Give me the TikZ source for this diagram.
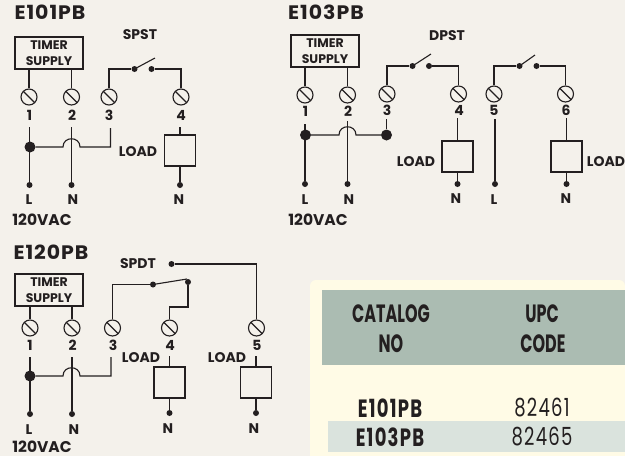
\documentclass[tikz,border=0pt]{standalone}
\usepackage{fontspec}
\setmainfont{Poppins}
\newfontfamily\titlefont[FakeStretch=1.05,LetterSpace=5]{Poppins}
\newfontfamily\condfont[FakeStretch=0.64]{Poppins}
\newfontfamily\itemfont[FakeStretch=0.72,LetterSpace=5]{Poppins}
\usepackage{xcolor}
\usetikzlibrary{positioning}
\definecolor{paperbg}{HTML}{F4F1EB}
\definecolor{inkblack}{HTML}{231F20}
\definecolor{panelcream}{HTML}{FFFBE6}
\definecolor{headgreen}{HTML}{ABBCB2}
\definecolor{rowgreen}{HTML}{DAE3DD}

\begin{document}
\begin{tikzpicture}[
    x=1pt, y=-1pt,
    wire/.style={draw=inkblack, line width=1.1pt},
    title/.style={font=\titlefont\fontsize{19.5}{19.5}\bfseries, text=inkblack, inner sep=0pt},
    lab/.style={font=\fontsize{14}{14}\bfseries, text=inkblack, inner sep=0pt},
    volt/.style={font=\fontsize{15.5}{15.5}\bfseries, text=inkblack, inner sep=0pt},
    supply/.style={rectangle, draw=inkblack, line width=1.1pt, minimum width=68pt, minimum height=32pt, inner sep=0pt, align=center, font=\fontsize{12.5}{16}\bfseries, text=inkblack},
    loadbox/.style={rectangle, draw=inkblack, line width=1.1pt, minimum width=31pt, minimum height=31pt, inner sep=0pt},
    terminal/.style={circle, draw=inkblack, line width=1.1pt, minimum size=16pt, inner sep=0pt, path picture={\draw[inkblack, line width=1.1pt] (path picture bounding box.north west) -- (path picture bounding box.south east);}},
    dot/.style={circle, fill=inkblack, minimum size=6pt, inner sep=0pt},
    bigdot/.style={circle, fill=inkblack, minimum size=11pt, inner sep=0pt},
    tablehead/.style={font=\condfont\fontsize{25}{25}\bfseries, text=inkblack, inner sep=0pt},
    tableitem/.style={font=\itemfont\fontsize{25}{25}\bfseries, text=inkblack, inner sep=0pt},
    tablecell/.style={font=\itemfont\fontsize{25}{25}\selectfont, text=inkblack, inner sep=0pt}
]
\useasboundingbox (0,0) rectangle (625,456);
\fill[paperbg] (0,0) rectangle (625,456);

% E101PB
\node[title] (atitle) at (50,12) {E101PB};
\node[supply] (asupply) at (49,53) {TIMER\\SUPPLY};
\node[lab] (aspst) at (140,35) {SPST};
\node[terminal] (a1) at (29,97) {};
\node[terminal] (a2) at (71.5,97) {};
\node[terminal] (a3) at (109,97) {};
\node[terminal] (a4) at (181,97) {};
\node[lab] at (29.5,115) {1};
\node[lab] at (72,115) {2};
\node[lab] at (109,115) {3};
\node[lab] at (181,115) {4};
\node[dot] (aon) at (134.5,69) {};
\node[dot] (aoff) at (151.5,69) {};
\coordinate (atip) at (155,58);
\draw[wire] (asupply.south -| a1) -- (a1);
\draw[wire] (asupply.south -| a2) -- (a2);
\draw[wire] (a3) |- (aon);
\draw[wire] (a4) |- (aoff);
\draw[wire] (aon.center) -- (atip);
\node[bigdot] (ajoin) at (30,147) {};
\node[dot] (aL) at (29.5,185) {};
\node[dot] (aN) at (71.5,185) {};
\node[dot] (aN2) at (180,185) {};
\coordinate (aLtop) at (29.5,127);
\coordinate (aNtop) at (71.5,127);
\coordinate (a3stub) at (110.5,128);
\coordinate (a4stub) at (180,127);
\coordinate (ajl) at (63,147);
\coordinate (ajr) at (80,147);
\node[loadbox] (aload) at (180,150.5) {};
\node[lab] at (138,152) {LOAD};
\draw[wire] (aLtop) -- (aL);
\draw[wire] (aNtop) -- (aN);
\draw[wire] (ajoin) -- (ajl) .. controls +(0,-11) and +(0,-11) .. (ajr) -| (a3stub);
\draw[wire] (a4stub) -- (aload);
\draw[wire] (aload) -- (aN2);
\node[lab] at (29,200) {L};
\node[lab] at (73,200) {N};
\node[lab] at (179,200) {N};
\node[volt] at (42,220) {120VAC};

% E103PB
\node[title] (btitle) at (326,12) {E103PB};
\node[supply] (bsupply) at (325,51) {TIMER\\SUPPLY};
\node[lab] (bdpst) at (447,36) {DPST};
\node[terminal] (b1) at (305,95) {};
\node[terminal] (b2) at (347.5,95) {};
\node[terminal] (b3) at (387,94) {};
\node[terminal] (b4) at (458.5,94) {};
\node[terminal] (b5) at (494,94) {};
\node[terminal] (b6) at (565.5,94) {};
\node[lab] at (305.5,111) {1};
\node[lab] at (348,111) {2};
\node[lab] at (387,110) {3};
\node[lab] at (459,110) {4};
\node[lab] at (494,110) {5};
\node[lab] at (566,110) {6};
\node[dot] (bon) at (412.5,66) {};
\node[dot] (boff) at (429,66) {};
\node[dot] (con) at (519.5,66) {};
\node[dot] (coff) at (536.5,66) {};
\coordinate (btip) at (431,54);
\coordinate (ctip) at (535,55);
\draw[wire] (bsupply.south -| b1) -- (b1);
\draw[wire] (bsupply.south -| b2) -- (b2);
\draw[wire] (b3) |- (bon);
\draw[wire] (b4) |- (boff);
\draw[wire] (b5) |- (con);
\draw[wire] (b6) |- (coff);
\draw[wire] (bon.center) -- (btip);
\draw[wire] (con.center) -- (ctip);
\node[bigdot] (bjoin) at (305.5,135) {};
\node[bigdot] (bjoin2) at (386.5,135) {};
\node[dot] (bL) at (305,184) {};
\node[dot] (bN) at (347.5,184) {};
\node[dot] (bN2) at (457.5,184) {};
\node[dot] (bL2) at (495,184) {};
\node[dot] (bN3) at (566.5,184) {};
\coordinate (bLtop) at (305,124);
\coordinate (bNtop) at (347.5,121);
\coordinate (b3stub) at (386.5,119);
\coordinate (b4stub) at (457.5,118);
\coordinate (b5stub) at (495,119);
\coordinate (b6stub) at (566.5,118);
\coordinate (bjl) at (339,135);
\coordinate (bjr) at (356,135);
\node[loadbox] (bload) at (457.5,156.5) {};
\node[loadbox] (bload2) at (566.5,156.5) {};
\node[lab] at (416,162) {LOAD};
\node[lab] at (606,162) {LOAD};
\draw[wire] (bLtop) -- (bL);
\draw[wire] (bNtop) -- (bN);
\draw[wire] (bjoin) -- (bjl) .. controls +(0,-11) and +(0,-11) .. (bjr) -- (bjoin2);
\draw[wire] (b3stub) -- (bjoin2);
\draw[wire] (b4stub) -- (bload);
\draw[wire] (bload) -- (bN2);
\draw[wire] (b5stub) -- (bL2);
\draw[wire] (b6stub) -- (bload2);
\draw[wire] (bload2) -- (bN3);
\node[lab] at (305,200) {L};
\node[lab] at (349,200) {N};
\node[lab] at (456,199) {N};
\node[lab] at (494,200) {L};
\node[lab] at (566,199) {N};
\node[volt] at (318,220) {120VAC};

% E120PB
\node[title] (dtitle) at (51,252) {E120PB};
\node[supply] (dsupply) at (49,290) {TIMER\\SUPPLY};
\node[lab] (dspdt) at (138,264) {SPDT};
\node[terminal] (d1) at (30,328) {};
\node[terminal] (d2) at (72,328) {};
\node[terminal] (d3) at (112.5,328) {};
\node[terminal] (d4) at (169.5,328) {};
\node[terminal] (d5) at (256.5,328) {};
\node[lab] at (30,345) {1};
\node[lab] at (72.5,345) {2};
\node[lab] at (113,345) {3};
\node[lab] at (170,345) {4};
\node[lab] at (257,345) {5};
\node[dot] (don) at (153,284.5) {};
\node[dot] (dnc) at (188,282) {};
\node[dot] (dno) at (171.5,264) {};
\coordinate (dtip) at (187,279);
\coordinate (dbend) at (188,307);
\draw[wire] (dsupply.south -| d1) -- (d1);
\draw[wire] (dsupply.south -| d2) -- (d2);
\draw[wire] (d3) |- (don);
\draw[wire] (dnc) -- (dbend) -| (d4);
\draw[wire] (dno) -| (d5);
\draw[wire] (don.center) -- (dtip);
\node[bigdot] (djoin) at (30,376) {};
\node[dot] (dL) at (30,414) {};
\node[dot] (dN) at (72,414) {};
\node[dot] (dN2) at (169.5,413) {};
\node[dot] (dN3) at (256,413) {};
\coordinate (dLtop) at (30,357);
\coordinate (dNtop) at (72,357);
\coordinate (d3stub) at (111,357);
\coordinate (d4stub) at (169.5,356);
\coordinate (d5stub) at (256,356);
\coordinate (djl) at (63,376);
\coordinate (djr) at (80,376);
\node[loadbox] (dload) at (169.5,382.5) {};
\node[loadbox] (dload2) at (256,382.5) {};
\node[lab] at (141,358) {LOAD};
\node[lab] at (227,358) {LOAD};
\draw[wire] (dLtop) -- (dL);
\draw[wire] (dNtop) -- (dN);
\draw[wire] (djoin) -- (djl) .. controls +(0,-11) and +(0,-11) .. (djr) -| (d3stub);
\draw[wire] (d4stub) -- (dload);
\draw[wire] (dload) -- (dN2);
\draw[wire] (d5stub) -- (dload2);
\draw[wire] (dload2) -- (dN3);
\node[lab] at (29,430) {L};
\node[lab] at (74,430) {N};
\node[lab] at (168,429) {N};
\node[lab] at (254,429) {N};
\node[volt] at (42,447) {120VAC};

% Table
\fill[panelcream, rounded corners=6pt] (310,456) -- (310,280) -- (625,280) [sharp corners] -- (625,456) -- cycle;
\fill[headgreen] (322,290) rectangle (625,365);
\fill[rowgreen] (328,421) rectangle (625,452);
\node[tablehead] at (391,314) {CATALOG};
\node[tablehead] at (391,344) {NO};
\node[tablehead] at (542,314) {UPC};
\node[tablehead] at (543,344) {CODE};
\node[tableitem] at (390,408) {E101PB};
\node[tablecell] at (542,408) {82461};
\node[tableitem] at (390,437) {E103PB};
\node[tablecell] at (542,437) {82465};
\end{tikzpicture}
\end{document}
